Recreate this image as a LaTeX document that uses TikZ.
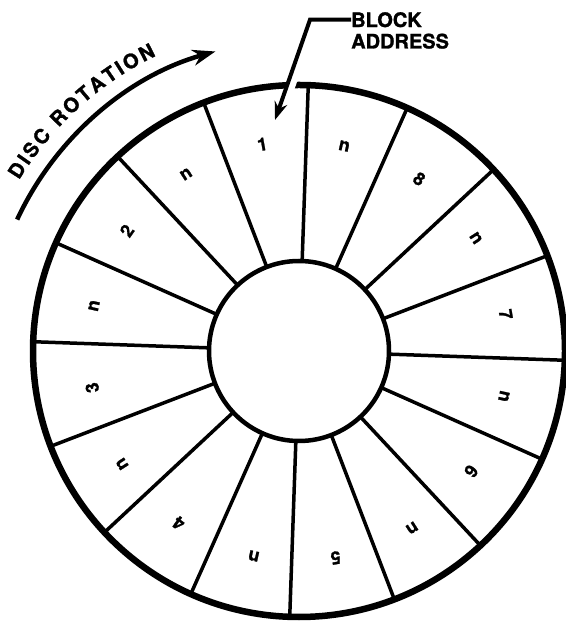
\documentclass[tikz,border=0pt]{standalone}
\usepackage{fontspec}
\setmainfont{TeX Gyre Heros}[BoldFeatures={FakeBold=1.3}]
\usepackage{tikz}
\usetikzlibrary{arrows.meta, positioning, calc, decorations.text}

\begin{document}
\begin{tikzpicture}[
      x=1pt, y=1pt,
      rim/.style={circle, draw, line width=6.5pt, minimum size=532pt, inner sep=0pt, outer sep=0pt},
      hub/.style={circle, draw, fill=white, line width=4.5pt, minimum size=180pt, inner sep=0pt, outer sep=0pt},
      spoke/.style={line width=3.5pt},
      sector/.style={font=\fontsize{18}{18}\selectfont\bfseries, inner sep=0pt},
      caption/.style={font=\fontsize{20}{20}\selectfont\bfseries, inner sep=0pt},
      leader/.style={line width=4pt, -{Stealth[length=18pt, width=13pt]}},
      rotation/.style={line width=4.5pt, -{Stealth[length=23pt, width=16pt]}},
      halo/.style={draw=white, line width=7pt}
    ]
      \useasboundingbox (0,0) rectangle (565,621);
      \coordinate (disc) at (299,270);
      \node[rim] (rim) at (disc) {};
      \node[hub] (hub) at (disc) {};
      \foreach \k in {0,...,15}
        \draw[spoke] (hub.{21.3+22.5*\k}) -- (rim.{21.3+22.5*\k});
      \foreach \lbl [count=\k from 0] in {7,n,8,n,1,n,2,n,3,n,4,n,5,n,6,n}
        \node[sector, rotate=10.05+22.5*\k-90] (sec\k) at ($(disc)+({10.05+22.5*\k}:210)$) {\lbl};
      \node[caption, anchor=north west] (block) at (351,609) {BLOCK};
      \node[caption, below=6pt of block.south west, anchor=north west] (address) {ADDRESS};
      \coordinate (bend) at ([xshift=-41pt]block.west);
      \coordinate (tip) at (275,501);
      \draw[halo] ($(bend)!0.5!(tip)+(5,0)$) -- ($(bend)!0.8!(tip)+(5,0)$);
      \draw[leader] (block.west) -- (bend) -- (tip);
      \coordinate (turn) at ($(disc)+(155:311)$);
      \draw[rotation] (turn) arc[start angle=155, end angle=105.6, radius=311];
      \path[decorate, decoration={text along path, text align=fit to path,
          text={|\fontsize{20}{20}\selectfont\bfseries|DISC ROTATION}}]
        ($(disc)+(148.6:328)$) arc[start angle=148.6, end angle=115.8, radius=328];
\end{tikzpicture}
\end{document}
